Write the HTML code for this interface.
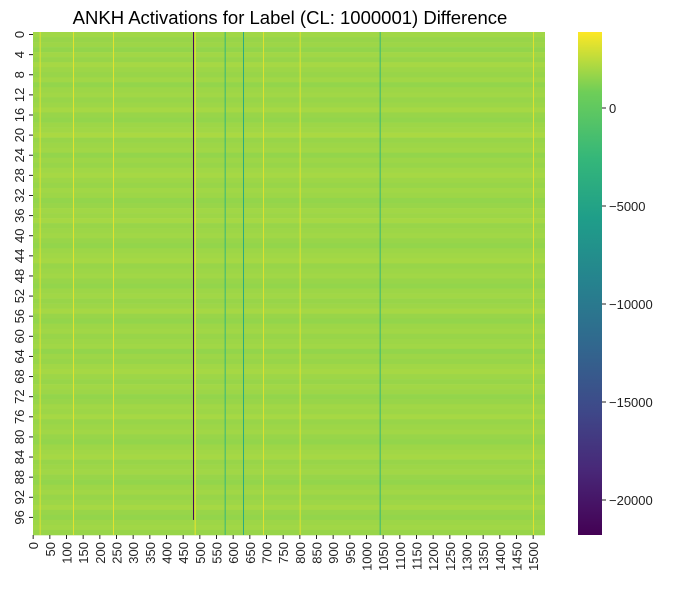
<!DOCTYPE html>
<html><head><meta charset="utf-8"><style>
body{margin:0;background:#fff;width:677px;height:590px;overflow:hidden;font-family:"Liberation Sans",sans-serif}
svg text{font-family:"Liberation Sans",sans-serif;fill:#222}
</style></head><body>
<svg id="chart" width="677" height="590" xmlns="http://www.w3.org/2000/svg">
<defs><linearGradient id="cbg" x1="0" y1="1" x2="0" y2="0">
<stop offset="0" stop-color="#440154"/><stop offset="0.13" stop-color="#482878"/><stop offset="0.25" stop-color="#3e4989"/><stop offset="0.38" stop-color="#31688e"/><stop offset="0.5" stop-color="#26828e"/><stop offset="0.63" stop-color="#1f9e89"/><stop offset="0.75" stop-color="#35b779"/><stop offset="0.88" stop-color="#6ece58"/><stop offset="1" stop-color="#fde725"/></linearGradient></defs>
<text x="290" y="24" font-size="18.5" text-anchor="middle" style="fill:#000">ANKH Activations for Label (CL: 1000001) Difference</text>
<g id="cells"></g>
<g id="yaxis"></g>
<g id="xaxis"></g>
<rect x="578" y="32" width="24" height="503" fill="url(#cbg)"/>
<g id="cbar"></g>
</svg>
<script>
const nRows = 100;
const nCols = 1536;
const vMin = -21786, vMax = 3878;
const rowValues = [1900,1700,1800,1600,1900,1700,2000,1800,1700,1900,1600,1800,1900,1700,1800,2000,1700,1600,1800,1900,2100,1700,1800,1900,1600,1800,1700,1900,2000,1800,1700,1900,1800,1600,1700,1900,1800,2000,1700,1800,1900,1700,1600,1800,1900,2000,1700,1800,1900,1700,1600,1800,1900,1700,1800,2000,1700,1600,1800,1900,1700,1800,1900,1600,1800,1700,1900,2000,1800,1700,1900,1800,1600,1700,1900,1800,2000,1700,1800,1900,1700,1600,1800,1900,2000,1700,1800,1900,1700,1600,1800,1900,1700,1800,2000,1700,1600,1800,1900,1700];
const spikeCols = [480, 485, 630, 575, 120, 240, 800, 1040, 20, 690, 1500];
const spikeValues = [-21000, 3500, -4000, -2500, 3300, 3300, 3300, -2500, 3200, 3200, 3200];
const spikeStart = [0, 0, 0, 0, 0, 0, 0, 0, 0, 0, 0];
const spikeEnd = [97, 100, 100, 100, 100, 100, 100, 100, 100, 100, 100];
const xTicks = [0,50,100,150,200,250,300,350,400,450,500,550,600,650,700,750,800,850,900,950,1000,1050,1100,1150,1200,1250,1300,1350,1400,1450,1500];
const yTicks = [0,4,8,12,16,20,24,28,32,36,40,44,48,52,56,60,64,68,72,76,80,84,88,92,96];
const cbTicks = [0,-5000,-10000,-15000,-20000];
const cbLabels = ["0","\u22125000","\u221210000","\u221215000","\u221220000"];

const X0=33, X1=545, Y0=32, Y1=535;
const xs = c => X0 + c*(X1-X0)/nCols;
const ys = r => Y0 + r*(Y1-Y0)/nRows;
const cs = v => Y1 - (v-vMin)/(vMax-vMin)*(Y1-Y0);
const stops=[[0,68,1,84],[.13,72,40,120],[.25,62,73,137],[.38,49,104,142],[.5,38,130,142],[.63,31,158,137],[.75,53,183,121],[.88,110,206,88],[1,253,231,37]];
function viridis(v){let t=Math.max(0,Math.min(1,(v-vMin)/(vMax-vMin)));for(let i=1;i<stops.length;i++){if(t<=stops[i][0]){const a=stops[i-1],b=stops[i],f=(t-a[0])/(b[0]-a[0]);return `rgb(${[1,2,3].map(k=>Math.round(a[k]+(b[k]-a[k])*f)).join(',')})`;}}return 'rgb(253,231,37)';}
const NS='http://www.w3.org/2000/svg';
function mk(tag,attrs,parent){const e=document.createElementNS(NS,tag);for(const k in attrs)e.setAttribute(k,attrs[k]);parent.appendChild(e);return e;}
const cells=document.getElementById('cells');
rowValues.forEach((v,r)=>{
  const e=mk('rect',{x:X0,y:ys(r),width:X1-X0,height:ys(r+1)-ys(r)+0.3,fill:viridis(v)},cells);
  
  
});
spikeCols.forEach((c,i)=>{
  const e=mk('rect',{x:xs(c),y:ys(spikeStart[i]),width:Math.max(1,xs(c+1)-xs(c)),height:ys(spikeEnd[i])-ys(spikeStart[i]),fill:viridis(spikeValues[i])},cells);
  
  
});
const ya=document.getElementById('yaxis');
yTicks.forEach(t=>{
  const y=ys(t+0.5);
  mk('line',{x1:X0-4,x2:X0,y1:y,y2:y,stroke:'#222','stroke-width':1},ya);
  const tx=mk('text',{x:0,y:0,'font-size':13,'text-anchor':'middle',transform:`translate(${X0-9},${y}) rotate(-90)`},ya);
  
  
  tx.textContent=t;
});
const xa=document.getElementById('xaxis');
xTicks.forEach(t=>{
  const x=xs(t+0.5);
  mk('line',{x1:x,x2:x,y1:Y1,y2:Y1+4,stroke:'#222','stroke-width':1},xa);
  const tx=mk('text',{x:0,y:0,'font-size':13,'text-anchor':'end',transform:`translate(${x+5},${Y1+7}) rotate(-90)`},xa);
  
  
  tx.textContent=t;
});
const cb=document.getElementById('cbar');
cbTicks.forEach((t,i)=>{
  const y=cs(t);
  mk('line',{x1:602,x2:606,y1:y,y2:y,stroke:'#222','stroke-width':1},cb);
  const tx=mk('text',{x:609,y:y+5,'font-size':13},cb);
  
  
  tx.textContent=cbLabels[i];
});
</script>
</body></html>
